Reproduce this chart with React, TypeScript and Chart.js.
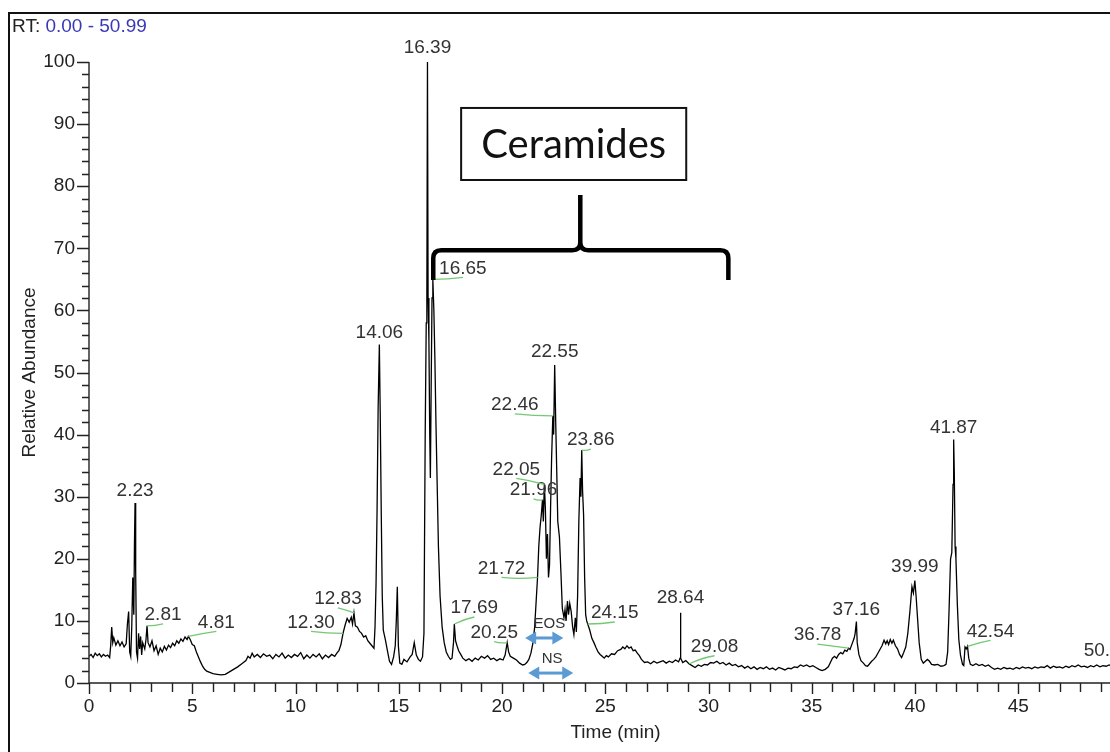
import { useEffect, useRef } from 'react';
import { Chart, registerables } from 'chart.js';

Chart.register(...registerables);

// ---------- data ----------
const retentionTime = [
  0.00, 0.10, 0.20, 0.30, 0.40, 0.50, 0.60, 0.70, 0.80, 0.90,
  1.00, 1.05, 1.10, 1.15, 1.20, 1.30, 1.40, 1.50, 1.60, 1.70,
  1.80, 1.86, 1.92, 1.97, 2.02, 2.07, 2.12, 2.17, 2.20, 2.23,
  2.26, 2.30, 2.35, 2.40, 2.45, 2.50, 2.55, 2.60, 2.70, 2.76,
  2.81, 2.86, 2.95, 3.05, 3.15, 3.25, 3.35, 3.45, 3.55, 3.65,
  3.75, 3.85, 3.95, 4.05, 4.15, 4.25, 4.35, 4.45, 4.55, 4.65,
  4.75, 4.81, 4.90, 5.00, 5.10, 5.20, 5.30, 5.40, 5.50, 5.60,
  5.70, 5.85, 6.00, 6.20, 6.40, 6.60, 6.80, 7.00, 7.20, 7.40,
  7.60, 7.70, 7.80, 7.90, 8.00, 8.15, 8.30, 8.45, 8.60, 8.75,
  8.90, 9.05, 9.20, 9.35, 9.50, 9.65, 9.80, 9.95, 10.10, 10.25,
  10.40, 10.55, 10.70, 10.85, 11.00, 11.15, 11.30, 11.45, 11.60, 11.75,
  11.90, 12.00, 12.10, 12.20, 12.30, 12.40, 12.50, 12.60, 12.70, 12.76,
  12.83, 12.90, 13.00, 13.10, 13.20, 13.30, 13.40, 13.50, 13.60, 13.70,
  13.80, 13.85, 13.90, 13.95, 14.00, 14.06, 14.10, 14.15, 14.20, 14.25,
  14.35, 14.45, 14.55, 14.65, 14.75, 14.83, 14.88, 14.93, 14.98, 15.05,
  15.15, 15.25, 15.40, 15.55, 15.65, 15.75, 15.85, 15.95, 16.05, 16.15,
  16.22, 16.28, 16.33, 16.36, 16.39, 16.42, 16.46, 16.50, 16.53, 16.57,
  16.61, 16.65, 16.70, 16.75, 16.80, 16.86, 16.92, 17.00, 17.10, 17.20,
  17.30, 17.40, 17.50, 17.58, 17.65, 17.69, 17.75, 17.82, 17.90, 18.00,
  18.10, 18.25, 18.40, 18.55, 18.70, 18.85, 19.00, 19.15, 19.30, 19.45,
  19.60, 19.75, 19.90, 20.05, 20.15, 20.25, 20.32, 20.40, 20.55, 20.70,
  20.85, 21.00, 21.10, 21.20, 21.30, 21.40, 21.50, 21.58, 21.65, 21.72,
  21.78, 21.84, 21.90, 21.96, 22.00, 22.05, 22.10, 22.15, 22.20, 22.25,
  22.30, 22.35, 22.40, 22.46, 22.50, 22.55, 22.60, 22.65, 22.70, 22.78,
  22.85, 22.92, 23.00, 23.05, 23.10, 23.17, 23.22, 23.28, 23.35, 23.42,
  23.48, 23.55, 23.60, 23.66, 23.72, 23.78, 23.82, 23.86, 23.90, 23.95,
  24.00, 24.05, 24.10, 24.15, 24.25, 24.35, 24.45, 24.55, 24.65, 24.75,
  24.85, 24.95, 25.05, 25.15, 25.30, 25.45, 25.60, 25.75, 25.85, 25.95,
  26.05, 26.15, 26.25, 26.35, 26.45, 26.55, 26.65, 26.75, 26.90, 27.05,
  27.20, 27.35, 27.50, 27.65, 27.80, 27.95, 28.10, 28.25, 28.40, 28.55,
  28.62, 28.64, 28.66, 28.75, 28.90, 29.05, 29.20, 29.35, 29.50, 29.65,
  29.80, 29.95, 30.10, 30.25, 30.40, 30.55, 30.70, 30.85, 31.00, 31.15,
  31.30, 31.45, 31.60, 31.75, 31.90, 32.05, 32.20, 32.35, 32.50, 32.65,
  32.80, 32.95, 33.10, 33.25, 33.40, 33.55, 33.70, 33.85, 34.00, 34.15,
  34.30, 34.45, 34.60, 34.75, 34.90, 35.05, 35.20, 35.35, 35.50, 35.65,
  35.80, 35.90, 36.00, 36.10, 36.20, 36.30, 36.40, 36.50, 36.60, 36.70,
  36.78, 36.85, 36.95, 37.05, 37.10, 37.16, 37.20, 37.28, 37.38, 37.50,
  37.60, 37.70, 37.80, 37.90, 38.00, 38.10, 38.20, 38.30, 38.40, 38.50,
  38.58, 38.65, 38.72, 38.80, 38.88, 38.95, 39.05, 39.15, 39.25, 39.35,
  39.45, 39.55, 39.65, 39.75, 39.85, 39.92, 39.99, 40.05, 40.12, 40.20,
  40.30, 40.40, 40.50, 40.60, 40.70, 40.80, 40.95, 41.10, 41.25, 41.40,
  41.50, 41.58, 41.65, 41.72, 41.78, 41.84, 41.87, 41.90, 41.94, 41.98,
  42.05, 42.12, 42.20, 42.30, 42.36, 42.42, 42.48, 42.54, 42.60, 42.68,
  42.80, 42.95, 43.10, 43.25, 43.40, 43.55, 43.70, 43.85, 44.00, 44.15,
  44.30, 44.45, 44.60, 44.75, 44.90, 45.05, 45.20, 45.35, 45.50, 45.65,
  45.80, 45.95, 46.10, 46.25, 46.40, 46.55, 46.70, 46.85, 47.00, 47.15,
  47.30, 47.45, 47.60, 47.75, 47.90, 48.05, 48.20, 48.35, 48.50, 48.65,
  48.80, 48.95, 49.10, 49.25, 49.40, 49.55, 49.70, 49.85, 50.00, 50.15,
  50.30, 50.45, 50.60, 50.77, 50.90, 50.99,
];

const relativeAbundance = [
  4.3, 4.6, 4.1, 4.8, 4.4, 4.7, 4.2, 4.6, 4.3, 4.5,
  4.1, 6.0, 9.0, 6.5, 7.3, 6.1, 6.8, 6.0, 6.6, 5.8,
  6.3, 9.5, 11.5, 5.0, 4.3, 9.0, 17.0, 11.0, 22.0, 29.0,
  18.0, 5.0, 4.0, 8.0, 5.5, 7.5, 4.5, 6.5, 5.5, 7.0,
  9.2, 6.5, 5.8, 6.8, 5.2, 6.0, 4.6, 5.6, 5.0, 5.9,
  5.3, 6.1, 5.7, 6.4, 6.0, 6.8, 6.4, 7.1, 6.7, 7.4,
  7.0, 7.5, 7.0, 6.2, 6.0, 5.0, 4.2, 3.4, 2.7, 2.2,
  1.9, 1.7, 1.5, 1.4, 1.3, 1.4, 1.8, 2.2, 2.6, 3.1,
  3.6, 4.3, 4.0, 4.8, 4.2, 4.6, 4.1, 4.7, 4.3, 4.5,
  3.9, 4.6, 4.2, 4.8, 4.0, 4.5, 4.1, 4.6, 4.3, 4.9,
  3.9, 4.5, 4.0, 4.6, 4.2, 4.7, 3.9, 4.5, 4.1, 4.6,
  4.3, 4.8, 5.2, 6.2, 8.0, 9.3, 10.4, 9.8, 10.6, 9.5,
  11.3, 9.2, 9.0, 8.3, 8.0, 7.4, 7.6, 6.8, 6.4, 6.0,
  5.6, 9.0, 16.0, 28.0, 44.0, 54.5, 44.0, 28.0, 14.0, 8.5,
  7.0, 5.2, 3.5, 3.0, 4.2, 6.0, 10.0, 15.5, 6.0, 3.2,
  3.0, 3.8, 3.4, 4.2, 4.6, 6.5, 4.5, 3.8, 3.5, 4.2,
  8.0, 40.0, 58.0, 62.0, 100.0, 62.0, 55.0, 40.0, 33.0, 48.0,
  62.0, 65.0, 60.0, 52.0, 42.0, 32.0, 22.0, 14.0, 9.0, 6.5,
  5.0, 4.3, 3.8, 4.0, 6.5, 9.5, 6.8, 6.0, 5.2, 4.6,
  4.0, 3.6, 3.9, 3.5, 4.0, 3.7, 4.3, 4.0, 4.4, 3.8,
  4.0, 3.6, 3.9, 3.7, 4.5, 6.5, 5.0, 4.3, 4.0, 3.7,
  3.2, 2.9, 3.0, 3.3, 3.8, 4.8, 6.5, 9.0, 13.0, 17.0,
  22.0, 25.0, 27.0, 29.5, 26.0, 32.0, 28.0, 20.0, 24.0, 17.0,
  19.0, 28.0, 36.0, 43.0, 40.0, 51.2, 42.0, 34.0, 26.0, 23.5,
  18.0, 12.0, 10.5, 11.8, 10.0, 13.2, 11.0, 12.8, 11.5, 9.0,
  7.8, 10.5, 8.2, 14.0, 26.0, 33.0, 30.0, 37.5, 31.0, 27.0,
  17.0, 11.0, 10.0, 9.5, 8.5, 7.2, 6.5, 5.7, 5.0, 4.6,
  4.3, 4.0, 4.4, 4.2, 4.7, 4.6, 5.2, 5.4, 5.8, 5.5,
  6.0, 5.6, 5.8, 5.2, 5.3, 4.8, 4.4, 3.8, 3.3, 3.4,
  3.1, 3.5, 3.2, 3.4, 3.6, 3.2, 3.5, 3.3, 3.7, 3.4,
  4.0, 11.3, 4.0, 3.3, 3.6, 3.1, 2.8, 2.5, 2.9, 2.7,
  3.0, 2.9, 3.3, 3.2, 3.5, 3.1, 3.3, 2.9, 3.2, 2.8,
  3.0, 2.6, 2.8, 2.4, 2.7, 2.3, 2.6, 2.2, 2.5, 2.3,
  2.6, 2.2, 2.4, 2.1, 2.5, 2.3, 2.1, 2.4, 2.3, 2.6,
  2.5, 2.9, 2.7, 2.9, 2.6, 2.8, 2.5, 2.2, 2.0, 2.2,
  2.6, 3.3, 4.0, 4.3, 4.0, 4.6, 4.9, 4.7, 5.3, 5.1,
  5.6, 5.4, 6.3, 7.2, 8.0, 9.9, 6.5, 4.6, 3.6, 3.2,
  2.8, 2.7, 3.1, 3.5, 3.8, 4.2, 4.8, 5.4, 6.0, 6.9,
  6.3, 6.8, 6.2, 7.0, 6.4, 6.9, 6.0, 5.5, 4.6, 4.1,
  4.9, 5.8, 8.0, 11.5, 15.5, 14.5, 16.5, 14.0, 10.5, 6.5,
  3.8, 3.2, 3.5, 3.8, 3.5, 3.0, 2.9, 3.0, 2.7, 2.8,
  3.0, 5.0, 12.0, 20.0, 21.0, 32.0, 39.2, 34.0, 22.0, 20.0,
  12.5, 7.0, 4.5, 3.0, 2.8, 5.8, 5.5, 5.9, 4.0, 3.0,
  2.8, 3.1, 2.8, 3.0, 2.7, 2.9, 2.5, 2.2, 2.4, 2.2,
  2.5, 2.3, 2.4, 2.2, 2.5, 2.3, 2.6, 2.4, 2.5, 2.3,
  2.6, 2.4, 2.6, 2.5, 2.8, 2.4, 2.7, 2.5, 2.6, 2.4,
  2.7, 2.5, 2.8, 2.6, 2.9, 2.6, 2.7, 2.5, 2.8, 2.6,
  2.9, 2.6, 2.8, 2.7, 2.9, 2.7, 2.8, 2.6, 2.8, 2.7,
  2.9, 2.8, 3.0, 3.2, 2.8, 2.8,
];

// peak annotations (retention time labels)
const peakLabelText = [
  '2.23', '2.81', '4.81', '12.30', '12.83', '14.06', '16.39', '16.65', '17.69', '20.25',
  '21.72', '21.96', '22.05', '22.46', '22.55', '23.86', '24.15', '28.64', '29.08', '36.78',
  '37.16', '39.99', '41.87', '42.54', '50.77',
];
const peakLabelTime = [
  2.23, 2.81, 4.81, 12.30, 12.83, 14.06, 16.39, 16.65, 17.69, 20.25,
  21.72, 21.96, 22.05, 22.46, 22.55, 23.86, 24.15, 28.64, 29.08, 36.78,
  37.16, 39.99, 41.87, 42.54, 50.77,
];
const peakLabelValue = [
  29.0, 9.2, 7.5, 8.0, 11.3, 54.5, 100, 65.0, 9.5, 6.5,
  17.0, 29.5, 32.0, 43.0, 51.2, 37.5, 9.5, 11.3, 3.1, 5.6,
  9.9, 16.5, 39.2, 5.9, 3.2,
];

const xMin = 0;
const xMax = 50.99;
const xMajorStep = 5;
const yMin = 0;
const yMax = 100;
const yMajorStep = 10;

// ---------- layout / styling (pixel offsets for annotation labels) ----------
// [dx, dy, hasLeader]
const labelStyle: [number, number, boolean][] = [
  [0, -12, false], [16, -11, true], [28, -14, true], [-32, -11, true], [-16, -14, true],
  [0, -12, false], [0, -14, false], [30, -11, true], [20, -16, true], [-13, -10, true],
  [-36, -9, true], [-9, -10, true], [-28, -15, true], [-38, -11, true], [0, -13, false],
  [9, -10, true], [27, -11, true], [0, -15, false], [25, -17, true], [-31, -13, true],
  [0, -12, false], [0, -14, false], [0, -12, false], [23, -15, true], [-30, -12, false],
];

const FONT = '"Liberation Sans", Arial, Helvetica, sans-serif';

const overlayPlugin = {
  id: 'overlay',
  afterDraw(chart: any) {
    const ctx: CanvasRenderingContext2D = chart.ctx;
    const xs = chart.scales.x;
    const ys = chart.scales.y;
    const X = (t: number) => xs.getPixelForValue(t);
    const Y = (v: number) => ys.getPixelForValue(v);
    const area = chart.chartArea;
    ctx.save();

    // outer frame
    ctx.strokeStyle = '#111';
    ctx.lineWidth = 2;
    ctx.strokeRect(9, 13, 1300, 900);

    // RT header
    ctx.font = `19px ${FONT}`;
    ctx.textBaseline = 'middle';
    ctx.textAlign = 'left';
    ctx.fillStyle = '#222';
    ctx.fillText('RT:', 12, 27);
    const w = ctx.measureText('RT: ').width;
    ctx.fillStyle = '#3838b8';
    ctx.fillText('0.00 - 50.99', 12 + w, 27);

    // axes lines
    ctx.strokeStyle = '#222';
    ctx.lineWidth = 1.4;
    ctx.beginPath();
    ctx.moveTo(area.left, area.top);
    ctx.lineTo(area.left, area.bottom);
    ctx.lineTo(area.right, area.bottom);
    ctx.stroke();

    // y ticks
    ctx.beginPath();
    for (let v = yMin; v <= yMax + 1e-9; v += 2) {
      const py = Math.round(Y(v)) + 0.5;
      const len = v % yMajorStep === 0 ? 12 : 7;
      ctx.moveTo(area.left, py);
      ctx.lineTo(area.left - len, py);
    }
    // x ticks
    for (let t = 0; t <= Math.floor(xMax); t += 1) {
      const px = Math.round(X(t)) + 0.5;
      const len = t % xMajorStep === 0 ? 11 : 9;
      ctx.moveTo(px, area.bottom);
      ctx.lineTo(px, area.bottom + len);
    }
    ctx.stroke();

    // axis titles
    ctx.fillStyle = '#222';
    ctx.font = `19px ${FONT}`;
    ctx.textAlign = 'center';
    ctx.textBaseline = 'middle';
    ctx.fillText('Time (min)', (area.left + area.right) / 2, 733);
    ctx.save();
    ctx.translate(30, (area.top + area.bottom) / 2);
    ctx.rotate(-Math.PI / 2);
    ctx.fillText('Relative Abundance', 0, 0);
    ctx.restore();

    // peak labels with leader lines
    for (let i = 0; i < peakLabelText.length; i++) {
      const px = X(peakLabelTime[i]);
      const py = Y(peakLabelValue[i]);
      const [dx, dy, leader] = labelStyle[i];
      const lx = px + dx;
      const ly = py + dy;
      if (leader) {
        ctx.strokeStyle = '#74c874';
        ctx.lineWidth = 1.3;
        ctx.beginPath();
        ctx.moveTo(px, py);
        ctx.quadraticCurveTo((px + lx) / 2, ly + 11, lx, ly + 9);
        ctx.stroke();
      }
      ctx.fillStyle = '#333';
      ctx.font = `19px ${FONT}`;
      ctx.textAlign = 'center';
      ctx.textBaseline = 'middle';
      ctx.fillText(peakLabelText[i], lx, ly);
    }

    // Ceramides box
    const bx1 = X(18.02), bx2 = X(28.92), by1 = Y(92.6), by2 = Y(81.0);
    ctx.strokeStyle = '#111';
    ctx.lineWidth = 2;
    ctx.fillStyle = '#fff';
    ctx.fillRect(bx1, by1, bx2 - bx1, by2 - by1);
    ctx.strokeRect(bx1, by1, bx2 - bx1, by2 - by1);
    ctx.fillStyle = '#111';
    ctx.font = `40px Lato, "Open Sans", sans-serif`;
    ctx.textAlign = 'center';
    ctx.textBaseline = 'middle';
    ctx.fillText('Ceramides', (bx1 + bx2) / 2, (by1 + by2) / 2 + 1);

    // curly bracket
    const xl = X(16.67), xr = X(30.96), xc = X(23.79);
    const yh = Y(69.7), yt = Y(64.9), yspike = Y(78.6);
    const r = 8;
    ctx.strokeStyle = '#000';
    ctx.lineWidth = 4.5;
    ctx.lineJoin = 'round';
    ctx.lineCap = 'butt';
    ctx.beginPath();
    ctx.moveTo(xl, yt);
    ctx.lineTo(xl, yh + r);
    ctx.quadraticCurveTo(xl, yh, xl + r, yh);
    ctx.lineTo(xc - r, yh);
    ctx.quadraticCurveTo(xc, yh, xc, yh - r);
    ctx.lineTo(xc, yspike);
    ctx.moveTo(xc, yh - r);
    ctx.quadraticCurveTo(xc, yh, xc + r, yh);
    ctx.lineTo(xr - r, yh);
    ctx.quadraticCurveTo(xr, yh, xr, yh + r);
    ctx.lineTo(xr, yt);
    ctx.stroke();

    // blue double arrows
    const arrow = (t1: number, t2: number, v: number) => {
      const x1 = X(t1), x2 = X(t2), y = Y(v);
      const hl = 11, hh = 6.5;
      ctx.strokeStyle = '#5b9bd5';
      ctx.fillStyle = '#5b9bd5';
      ctx.lineWidth = 3;
      ctx.beginPath();
      ctx.moveTo(x1 + hl - 1, y);
      ctx.lineTo(x2 - hl + 1, y);
      ctx.stroke();
      ctx.beginPath();
      ctx.moveTo(x1, y);
      ctx.lineTo(x1 + hl, y - hh);
      ctx.lineTo(x1 + hl, y + hh);
      ctx.closePath();
      ctx.fill();
      ctx.beginPath();
      ctx.moveTo(x2, y);
      ctx.lineTo(x2 - hl, y - hh);
      ctx.lineTo(x2 - hl, y + hh);
      ctx.closePath();
      ctx.fill();
    };
    arrow(21.12, 22.97, 7.25);
    arrow(21.27, 23.45, 1.6);
    ctx.fillStyle = '#333';
    ctx.font = `15px ${FONT}`;
    ctx.textAlign = 'center';
    ctx.textBaseline = 'middle';
    ctx.fillText('EOS', X(22.29), Y(9.5));
    ctx.fillText('NS', X(22.43), Y(3.9));

    ctx.restore();
  },
};

export default function App() {
  const ref = useRef<HTMLCanvasElement>(null);
  useEffect(() => {
    const canvas = ref.current;
    if (!canvas) return;
    const chart = new Chart(canvas, {
      type: 'line',
      data: {
        datasets: [
          {
            data: retentionTime.map((t, i) => ({ x: t, y: relativeAbundance[i] })),
            borderColor: '#000',
            borderWidth: 1.3,
            pointRadius: 0,
            tension: 0,
            fill: false,
          },
        ],
      },
      options: {
        animation: false,
        responsive: false,
        devicePixelRatio: 1,
        layout: { padding: { top: 62, right: 18, bottom: 0, left: 0 } },
        plugins: { legend: { display: false }, tooltip: { enabled: false } },
        scales: {
          x: {
            type: 'linear',
            min: xMin,
            max: xMax,
            grid: { display: false, drawTicks: false },
            border: { display: false },
            ticks: {
              stepSize: xMajorStep,
              includeBounds: false,
              autoSkip: false,
              maxRotation: 0,
              padding: 12,
              color: '#222',
              font: { family: FONT, size: 19 },
              callback: (v: any) => String(v),
            },
            afterFit: (s: any) => { s.height = 77; },
          },
          y: {
            min: yMin,
            max: yMax,
            grid: { display: false, drawTicks: false },
            border: { display: false },
            ticks: {
              stepSize: yMajorStep,
              padding: 14,
              color: '#222',
              font: { family: FONT, size: 19 },
              callback: (v: any) => String(v),
            },
            afterFit: (s: any) => { s.width = 89; },
          },
        },
      },
      plugins: [overlayPlugin],
    } as any);
    return () => chart.destroy();
  }, []);
  return (
    <div style={{ position: 'fixed', left: 0, top: 0, width: 1110, height: 752, overflow: 'hidden', background: '#fff' }}>
      <canvas ref={ref} width={1160} height={760} style={{ display: 'block', width: 1160, height: 760 }} />
    </div>
  );
}
